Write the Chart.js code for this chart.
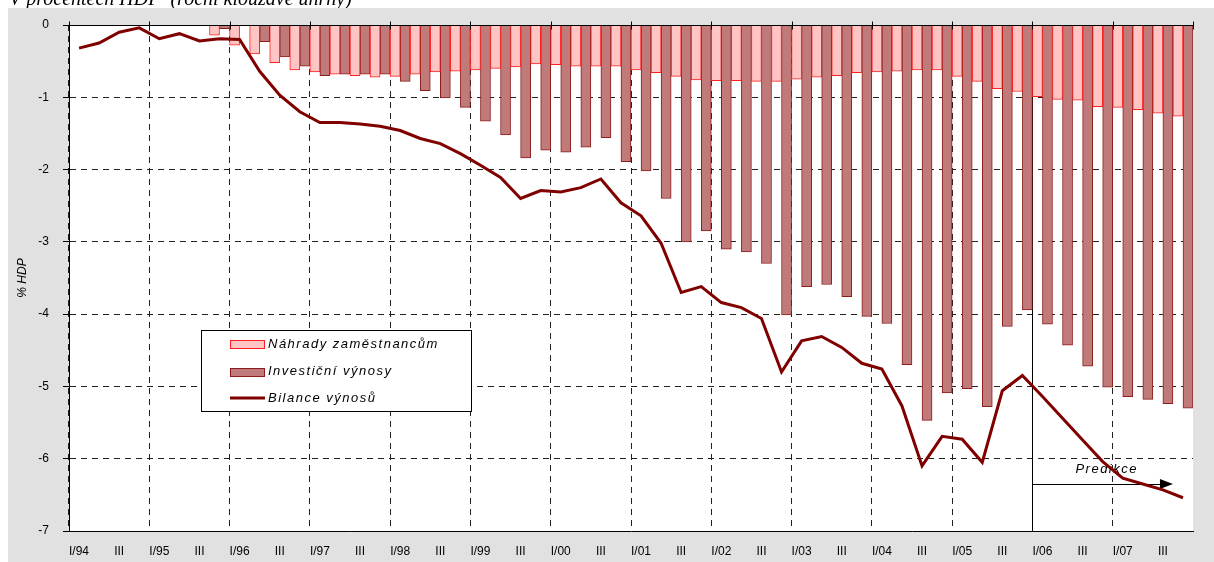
<!DOCTYPE html>
<html>
<head>
<meta charset="utf-8">
<script src="https://cdn.jsdelivr.net/npm/chart.js@4.4.1/dist/chart.umd.min.js"></script>
<style>
  html,body{margin:0;padding:0;background:#fff}
  #wrap{width:1214px;height:562px}
</style>
</head>
<body>
<div id="wrap"><canvas id="c" width="1214" height="562"></canvas></div>
<script>
'use strict';
/* Běžný účet – bilance výnosů, % HDP, čtvrtletí I/94 – IV/07 */
const TITLE = 'V procentech HDP  (roční klouzavé úhrny)';
const years = ['94','95','96','97','98','99','00','01','02','03','04','05','06','07'];
const quarterNames = ['I','II','III','IV'];

const nahrady = [
  null, null, null, null, null, null, null, -0.14,
  -0.28, -0.40, -0.52, -0.62, -0.65, -0.68, -0.70, -0.72,
  -0.71, -0.68, -0.65, -0.64, -0.62, -0.60, -0.58, -0.54,
  -0.55, -0.57, -0.57, -0.57, -0.62, -0.66, -0.71, -0.76,
  -0.77, -0.77, -0.78, -0.78, -0.75, -0.72, -0.70, -0.66,
  -0.65, -0.64, -0.62, -0.62, -0.71, -0.78, -0.88, -0.92,
  -0.99, -1.03, -1.04, -1.13, -1.14, -1.17, -1.22, -1.26
];
const investicni = [
  null, null, null, null, null, null, null, -0.05,
  null, -0.23, -0.44, -0.57, -0.70, -0.68, -0.68, -0.68,
  -0.78, -0.91, -1.01, -1.14, -1.33, -1.52, -1.84, -1.73,
  -1.76, -1.69, -1.56, -1.89, -2.02, -2.40, -3.00, -2.85,
  -3.10, -3.14, -3.30, -4.01, -3.62, -3.59, -3.76, -4.03,
  -4.13, -4.70, -5.47, -5.09, -5.03, -5.28, -4.17, -3.94,
  -4.14, -4.43, -4.72, -5.01, -5.14, -5.18, -5.24, -5.30
];
const bilance = [
  -0.32, -0.25, -0.10, -0.04, -0.19, -0.12, -0.22, -0.19,
  -0.20, -0.64, -0.97, -1.20, -1.35, -1.35, -1.37, -1.40,
  -1.46, -1.57, -1.64, -1.78, -1.94, -2.11, -2.40, -2.29,
  -2.31, -2.25, -2.13, -2.46, -2.64, -3.02, -3.70, -3.62,
  -3.84, -3.91, -4.06, -4.80, -4.37, -4.31, -4.46, -4.68,
  -4.76, -5.27, -6.10, -5.69, -5.73, -6.05, -5.06, -4.85,
  -5.14, -5.44, -5.74, -6.04, -6.27, -6.35, -6.43, -6.54
];
const seriesNames = ['Náhrady zaměstnancům', 'Investiční výnosy', 'Bilance výnosů'];
const predikceStart = 48;   // I/06

const labels = years.flatMap(y => quarterNames.map(q => q + '/' + y));

const C = {
  pinkFill:'#ffc4c4', pinkLine:'#ff2020',
  darkFill:'#c07a7a', darkLine:'#8b1c1c',
  line:'#800000', grid:'#222', gray:'#e1e1e1'
};
const FONT = 'Arial, "Liberation Sans", sans-serif';
Chart.defaults.font.family = FONT;
Chart.defaults.color = '#000';

const decor = {
  id:'decor',
  beforeDraw(chart){
    const {ctx, chartArea:a} = chart;
    ctx.save();
    ctx.fillStyle = '#fff'; ctx.fillRect(0, 0, chart.width, chart.height);
    ctx.fillStyle = '#000';
    ctx.font = 'italic 20px "Liberation Serif", "Times New Roman", serif';
    ctx.textBaseline = 'alphabetic';
    ctx.fillText(TITLE, 9, 5);
    ctx.fillStyle = C.gray; ctx.fillRect(8, 8, chart.width - 8, chart.height - 8);
    ctx.fillStyle = '#fff'; ctx.fillRect(a.left, a.top, a.right - a.left, a.bottom - a.top);
    ctx.restore();
  },
  beforeDatasetsDraw(chart){
    const {ctx, chartArea:a, scales:{x, y}} = chart;
    const half = (x.getPixelForValue(1) - x.getPixelForValue(0)) / 2;
    const sx = x.getPixelForValue(predikceStart) - half;
    const tipX = x.getPixelForValue(55) - half;
    const ay = y.getPixelForValue(-6.35);
    ctx.save();
    ctx.strokeStyle = '#000'; ctx.lineWidth = 1;
    ctx.beginPath(); ctx.moveTo(Math.round(sx) + 0.5, a.top); ctx.lineTo(Math.round(sx) + 0.5, a.bottom); ctx.stroke();
    ctx.beginPath(); ctx.moveTo(sx, Math.round(ay) + 0.5); ctx.lineTo(tipX - 12, Math.round(ay) + 0.5); ctx.stroke();
    ctx.fillStyle = '#000';
    ctx.beginPath(); ctx.moveTo(tipX, ay); ctx.lineTo(tipX - 13, ay - 5); ctx.lineTo(tipX - 13, ay + 5); ctx.closePath(); ctx.fill();
    ctx.font = 'italic 13px ' + FONT;
    ctx.letterSpacing = '1.5px';
    ctx.textAlign = 'center'; ctx.textBaseline = 'middle';
    ctx.fillText('Predikce', x.getPixelForValue(51.2), y.getPixelForValue(-6.15));
    ctx.restore();
  },
  afterDraw(chart){
    const {ctx, chartArea:a, scales:{x, y}} = chart;
    const half = (x.getPixelForValue(1) - x.getPixelForValue(0)) / 2;
    ctx.save();
    // nulová osa + značky let
    const y0 = Math.round(y.getPixelForValue(0)) + 0.5;
    ctx.strokeStyle = '#000'; ctx.lineWidth = 1;
    ctx.beginPath(); ctx.moveTo(a.left, y0); ctx.lineTo(a.right, y0); ctx.stroke();
    for (let i = 0; i <= labels.length; i += 4) {
      const px = Math.round(x.getPixelForValue(i) - half) + 0.5;
      ctx.beginPath(); ctx.moveTo(px, y0 - 4); ctx.lineTo(px, y0 + 4); ctx.stroke();
    }
    // legenda
    const L = {x:201.5, y:330.5, w:270, h:81};
    ctx.fillStyle = '#fff'; ctx.fillRect(L.x, L.y, L.w, L.h);
    ctx.strokeRect(L.x, L.y, L.w, L.h);
    ctx.fillStyle = C.pinkFill; ctx.fillRect(230.5, 340.5, 34, 8);
    ctx.strokeStyle = C.pinkLine; ctx.strokeRect(230.5, 340.5, 34, 8);
    ctx.fillStyle = C.darkFill; ctx.fillRect(230.5, 368.5, 34, 8);
    ctx.strokeStyle = C.darkLine; ctx.strokeRect(230.5, 368.5, 34, 8);
    ctx.strokeStyle = C.line; ctx.lineWidth = 3;
    ctx.beginPath(); ctx.moveTo(230, 398); ctx.lineTo(265, 398); ctx.stroke();
    ctx.fillStyle = '#000';
    ctx.font = 'italic 13px ' + FONT;
    ctx.letterSpacing = '1.5px';
    ctx.textAlign = 'left'; ctx.textBaseline = 'middle';
    ctx.fillText(seriesNames[0], 268, 344);
    ctx.fillText(seriesNames[1], 268, 371);
    ctx.fillText(seriesNames[2], 268, 398);
    ctx.restore();
  }
};

new Chart(document.getElementById('c'), {
  data:{
    labels,
    datasets:[
      {type:'bar', label:seriesNames[0], data:nahrady, backgroundColor:C.pinkFill, borderColor:C.pinkLine,
       borderWidth:1, borderSkipped:'start', categoryPercentage:1, barPercentage:1, order:1},
      {type:'bar', label:seriesNames[1], data:investicni, backgroundColor:C.darkFill, borderColor:C.darkLine,
       borderWidth:1, borderSkipped:'start', categoryPercentage:1, barPercentage:1, order:1},
      {type:'line', label:seriesNames[2], data:bilance, borderColor:C.line, borderWidth:3,
       pointRadius:0, tension:0, fill:false, order:0}
    ]
  },
  options:{
    responsive:false, animation:false,
    layout:{padding:{top:25, right:21, bottom:0, left:0}},
    plugins:{legend:{display:false}, tooltip:{enabled:false}},
    scales:{
      x:{
        offset:true,
        grid:{offset:true, drawTicks:false, color:c => c.index % 4 === 0 ? C.grid : 'rgba(0,0,0,0)', lineWidth:1},
        border:{display:true, color:'#000', width:1, dash:[6,5]},
        ticks:{autoSkip:false, maxRotation:0, padding:13, font:{size:12}, color:'#000',
          callback:(v, i) => {
            const q = labels[i].split('/')[0];
            return q === 'I' ? labels[i] : (q === 'III' ? 'III' : '');
          }},
        afterFit:s => { s.height = 31; }
      },
      y:{
        min:-7, max:0,
        ticks:{stepSize:1, padding:14, font:{size:12}, color:'#000'},
        grid:{color:c => (c.tick && (c.tick.value === 0 || c.tick.value === -7)) ? 'rgba(0,0,0,0)' : C.grid,
              tickColor:'#000', tickLength:6, lineWidth:1},
        border:{display:true, color:'#000', width:1, dash:[6,5]},
        title:{display:true, text:'% HDP', font:{size:12, style:'italic'}, color:'#000', padding:{top:15, bottom:0}},
        afterFit:s => { s.width = 69; }
      }
    }
  },
  plugins:[decor]
});
</script>
</body>
</html>
